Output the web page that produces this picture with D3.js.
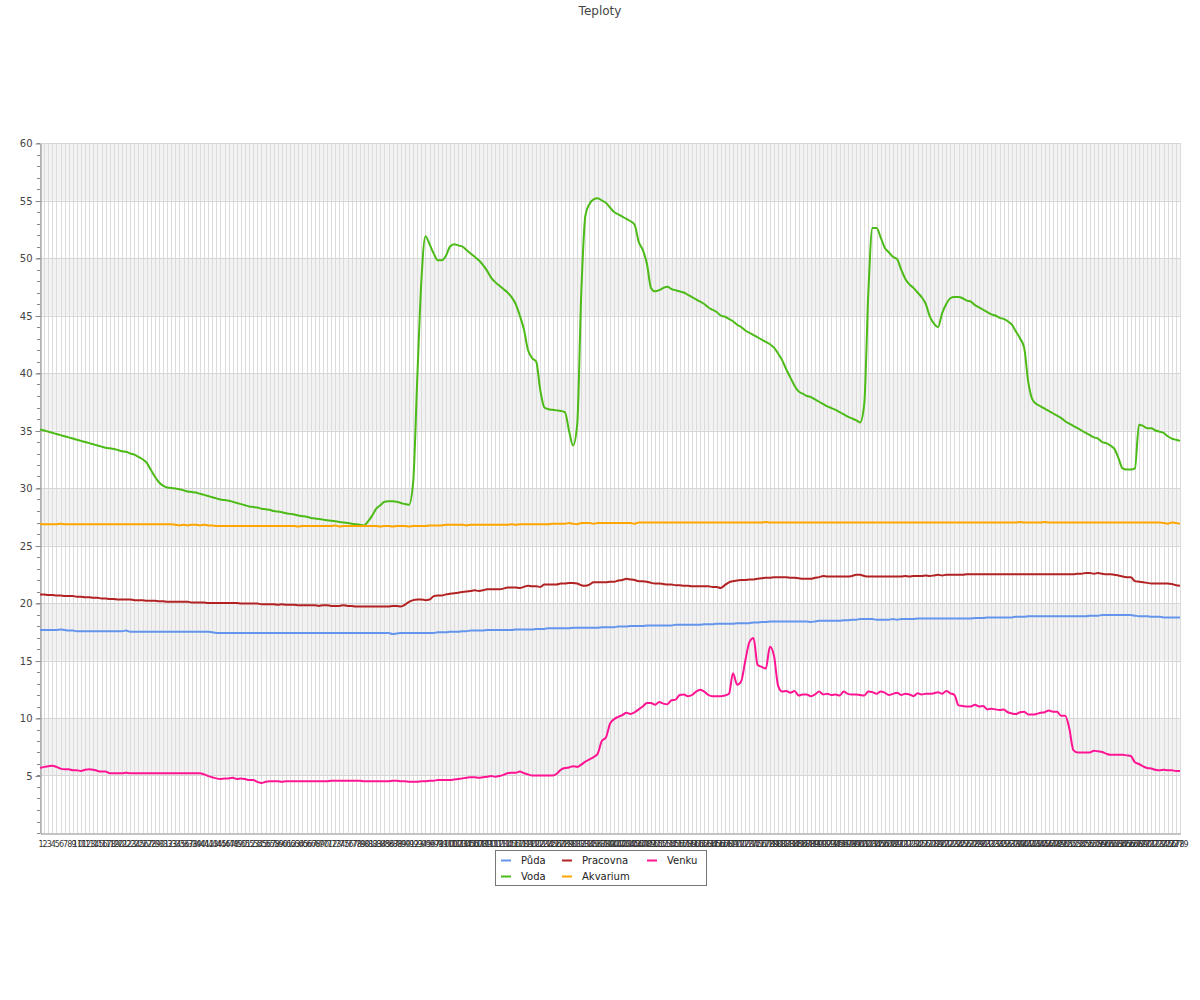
<!DOCTYPE html>
<html><head><meta charset="utf-8">
<script src="https://cdn.jsdelivr.net/npm/d3@7"></script>
<style>body{margin:0;background:#fff}svg{display:block}</style>
</head><body>
<svg id="chart" width="1200" height="1000"></svg>
<script>
const categories = [1,2,3,4,5,6,7,8,9,10,11,12,13,14,15,16,17,18,19,20,21,22,23,24,25,26,27,28,29,30,31,32,33,34,35,36,37,38,39,40,41,42,43,44,45,46,47,48,49,50,51,52,53,54,55,56,57,58,59,60,61,62,63,64,65,66,67,68,69,70,71,72,73,74,75,76,77,78,79,80,81,82,83,84,85,86,87,88,89,90,91,92,93,94,95,96,97,98,99,100,101,102,103,104,105,106,107,108,109,110,111,112,113,114,115,116,117,118,119,120,121,122,123,124,125,126,127,128,129,130,131,132,133,134,135,136,137,138,139,140,141,142,143,144,145,146,147,148,149,150,151,152,153,154,155,156,157,158,159,160,161,162,163,164,165,166,167,168,169,170,171,172,173,174,175,176,177,178,179,180,181,182,183,184,185,186,187,188,189,190,191,192,193,194,195,196,197,198,199,200,201,202,203,204,205,206,207,208,209,210,211,212,213,214,215,216,217,218,219,220,221,222,223,224,225,226,227,228,229,230,231,232,233,234,235,236,237,238,239,240,241,242,243,244,245,246,247,248,249,250,251,252,253,254,255,256,257,258,259,260,261,262,263,264,265,266,267,268,269,270,271,272,273,274,275,276,277,278,279];

const yTickLabels = [5,10,15,20,25,30,35,40,45,50,55,60];

const puda = [
17.65,17.65,17.65,17.65,17.65,17.7,17.65,17.6,17.6,17.55,
17.55,17.55,17.55,17.55,17.55,17.55,17.55,17.55,17.55,17.55,
17.55,17.6,17.5,17.5,17.5,17.5,17.5,17.5,17.5,17.5,
17.5,17.5,17.5,17.5,17.5,17.5,17.5,17.5,17.5,17.5,
17.5,17.5,17.45,17.4,17.4,17.4,17.4,17.4,17.4,17.4,
17.4,17.4,17.4,17.4,17.4,17.4,17.4,17.4,17.4,17.4,
17.4,17.4,17.4,17.4,17.4,17.4,17.4,17.4,17.4,17.4,
17.4,17.4,17.4,17.4,17.4,17.4,17.4,17.4,17.4,17.4,
17.4,17.4,17.4,17.4,17.4,17.4,17.3,17.35,17.4,17.4,
17.4,17.4,17.4,17.4,17.4,17.4,17.4,17.45,17.45,17.45,
17.5,17.5,17.5,17.55,17.55,17.6,17.6,17.6,17.6,17.65,
17.65,17.65,17.65,17.65,17.65,17.65,17.7,17.7,17.7,17.7,
17.7,17.75,17.75,17.75,17.8,17.8,17.8,17.8,17.8,17.8,
17.85,17.85,17.85,17.85,17.85,17.85,17.85,17.9,17.9,17.9,
17.9,17.95,17.95,17.95,18.0,18.0,18.0,18.0,18.05,18.05,
18.05,18.05,18.05,18.05,18.05,18.1,18.1,18.1,18.1,18.1,
18.1,18.1,18.15,18.15,18.15,18.2,18.2,18.2,18.2,18.2,
18.25,18.25,18.25,18.25,18.3,18.3,18.35,18.35,18.4,18.4,
18.4,18.4,18.4,18.4,18.4,18.4,18.4,18.4,18.35,18.4,
18.45,18.45,18.45,18.45,18.45,18.45,18.5,18.5,18.55,18.55,
18.6,18.6,18.6,18.6,18.55,18.55,18.55,18.55,18.6,18.55,
18.6,18.6,18.6,18.6,18.65,18.65,18.65,18.65,18.65,18.65,
18.65,18.65,18.65,18.65,18.65,18.65,18.65,18.65,18.7,18.7,
18.7,18.75,18.75,18.75,18.75,18.75,18.75,18.75,18.8,18.8,
18.8,18.85,18.85,18.85,18.85,18.85,18.85,18.85,18.85,18.85,
18.85,18.85,18.85,18.85,18.85,18.85,18.9,18.9,18.9,18.95,
18.95,18.95,18.95,18.95,18.95,18.95,18.95,18.9,18.85,18.85,
18.85,18.8,18.8,18.8,18.75,18.75,18.75,18.75,18.75];

const voda = [
35.1,35.0,34.9,34.8,34.7,34.6,34.5,34.4,34.3,34.2,
34.1,34.0,33.9,33.8,33.7,33.6,33.5,33.45,33.4,33.3,
33.2,33.15,33.0,32.9,32.7,32.5,32.2,31.6,31.0,30.5,
30.2,30.05,30.0,29.95,29.9,29.8,29.7,29.65,29.6,29.5,
29.4,29.3,29.2,29.1,29.0,28.95,28.9,28.8,28.7,28.6,
28.5,28.4,28.35,28.3,28.2,28.15,28.1,28.0,27.95,27.9,
27.8,27.75,27.7,27.6,27.55,27.5,27.4,27.35,27.3,27.25,
27.2,27.15,27.1,27.05,27.0,26.95,26.9,26.85,26.8,26.75,
27.1,27.6,28.2,28.5,28.8,28.85,28.85,28.8,28.7,28.6,
28.55,30.5,39.5,48.0,51.9,51.2,50.4,49.8,49.8,50.2,
51.0,51.2,51.1,51.0,50.7,50.4,50.1,49.8,49.4,48.9,
48.3,47.9,47.6,47.3,47.0,46.6,46.0,45.0,43.8,42.0,
41.3,41.0,38.5,37.0,36.85,36.8,36.75,36.7,36.6,35.0,
33.7,35.5,47.0,53.7,54.7,55.1,55.2,55.0,54.8,54.4,
54.0,53.8,53.6,53.4,53.2,52.9,51.4,50.7,49.5,47.4,
47.1,47.2,47.4,47.5,47.3,47.2,47.1,47.0,46.8,46.6,
46.4,46.2,46.0,45.7,45.5,45.3,45.0,44.9,44.7,44.5,
44.2,44.0,43.7,43.5,43.3,43.1,42.9,42.7,42.5,42.2,
41.7,41.1,40.3,39.6,38.9,38.4,38.2,38.0,37.9,37.7,
37.5,37.3,37.1,36.95,36.8,36.6,36.4,36.2,36.05,35.9,
35.7,37.3,47.0,52.6,52.6,51.8,50.9,50.5,50.1,49.9,
49.0,48.2,47.7,47.4,47.0,46.6,46.0,44.9,44.3,44.0,
45.2,46.0,46.5,46.6,46.6,46.5,46.3,46.2,45.9,45.7,
45.5,45.3,45.1,45.0,44.8,44.7,44.5,44.2,43.6,43.0,
42.2,39.2,37.7,37.3,37.1,36.9,36.7,36.5,36.3,36.1,
35.8,35.6,35.4,35.2,35.0,34.8,34.6,34.4,34.3,34.0,
33.9,33.7,33.4,32.6,31.7,31.6,31.6,31.7,35.5,35.4,
35.2,35.2,35.0,34.9,34.8,34.5,34.3,34.2,34.1];

const pracovna = [
20.75,20.75,20.7,20.7,20.65,20.65,20.6,20.6,20.6,20.55,
20.55,20.5,20.5,20.45,20.45,20.4,20.4,20.35,20.35,20.3,
20.3,20.3,20.3,20.25,20.25,20.25,20.2,20.2,20.2,20.15,
20.15,20.1,20.1,20.1,20.1,20.1,20.1,20.05,20.05,20.05,
20.05,20.0,20.0,20.0,20.0,20.0,20.0,20.0,20.0,19.95,
19.95,19.95,19.95,19.95,19.9,19.9,19.9,19.9,19.85,19.9,
19.85,19.85,19.85,19.8,19.8,19.8,19.8,19.8,19.75,19.8,
19.8,19.75,19.75,19.75,19.8,19.75,19.75,19.7,19.7,19.7,
19.7,19.7,19.7,19.7,19.7,19.7,19.75,19.75,19.7,19.85,
20.1,20.25,20.3,20.3,20.25,20.3,20.6,20.65,20.65,20.75,
20.8,20.85,20.9,20.95,21.0,21.05,21.1,21.05,21.1,21.2,
21.2,21.2,21.2,21.25,21.35,21.35,21.35,21.3,21.4,21.5,
21.45,21.45,21.4,21.6,21.6,21.6,21.6,21.7,21.7,21.75,
21.75,21.7,21.55,21.5,21.6,21.8,21.8,21.8,21.8,21.85,
21.85,21.95,22.0,22.1,22.05,22.0,21.9,21.9,21.85,21.75,
21.7,21.7,21.65,21.6,21.6,21.55,21.55,21.5,21.5,21.45,
21.45,21.45,21.45,21.45,21.4,21.4,21.3,21.55,21.8,21.9,
21.95,22.0,22.0,22.05,22.05,22.1,22.15,22.2,22.2,22.25,
22.25,22.25,22.25,22.2,22.2,22.15,22.1,22.1,22.1,22.2,
22.25,22.35,22.3,22.3,22.3,22.3,22.3,22.3,22.35,22.45,
22.45,22.35,22.3,22.3,22.3,22.3,22.3,22.3,22.3,22.3,
22.3,22.35,22.3,22.35,22.35,22.35,22.4,22.35,22.4,22.45,
22.4,22.45,22.45,22.45,22.45,22.45,22.5,22.5,22.5,22.5,
22.5,22.5,22.5,22.5,22.5,22.5,22.5,22.5,22.5,22.5,
22.5,22.5,22.5,22.5,22.5,22.5,22.5,22.5,22.5,22.5,
22.5,22.5,22.5,22.55,22.55,22.6,22.6,22.55,22.6,22.55,
22.5,22.5,22.45,22.4,22.3,22.25,22.25,21.9,21.85,21.8,
21.75,21.7,21.7,21.7,21.7,21.7,21.65,21.55,21.5];

const akvarium = [
26.9,26.85,26.85,26.85,26.85,26.9,26.85,26.85,26.85,26.85,
26.85,26.85,26.85,26.85,26.85,26.85,26.85,26.85,26.85,26.85,
26.85,26.85,26.85,26.85,26.85,26.85,26.85,26.85,26.85,26.85,
26.85,26.85,26.85,26.8,26.75,26.8,26.75,26.8,26.8,26.75,
26.8,26.75,26.75,26.7,26.7,26.7,26.7,26.7,26.7,26.7,
26.7,26.7,26.7,26.7,26.7,26.7,26.7,26.7,26.7,26.7,
26.7,26.7,26.7,26.65,26.7,26.7,26.7,26.7,26.7,26.7,
26.7,26.7,26.75,26.65,26.7,26.7,26.7,26.7,26.7,26.7,
26.7,26.7,26.7,26.65,26.7,26.7,26.65,26.7,26.7,26.7,
26.65,26.7,26.7,26.7,26.7,26.75,26.75,26.75,26.75,26.8,
26.8,26.8,26.8,26.8,26.75,26.8,26.8,26.8,26.8,26.8,
26.8,26.8,26.8,26.8,26.8,26.85,26.8,26.85,26.85,26.85,
26.85,26.85,26.85,26.85,26.85,26.9,26.9,26.9,26.9,26.95,
26.9,26.85,26.95,26.95,26.95,26.9,26.95,26.95,26.95,26.95,
26.95,26.95,26.95,26.95,26.95,26.9,27.0,27.0,27.0,27.0,
27.0,27.0,27.0,27.0,27.0,27.0,27.0,27.0,27.0,27.0,
27.0,27.0,27.0,27.0,27.0,27.0,27.0,27.0,27.0,27.0,
27.0,27.0,27.0,27.0,27.0,27.0,27.0,27.05,27.0,27.0,
27.0,27.0,27.0,27.0,27.0,27.0,27.0,27.0,27.0,27.0,
27.0,27.0,27.0,27.0,27.0,27.0,27.0,27.0,27.0,27.0,
27.0,27.0,27.0,27.0,27.0,27.0,27.0,27.0,27.0,27.0,
27.0,27.0,27.0,27.0,27.0,27.0,27.0,27.0,27.0,27.0,
27.0,27.0,27.0,27.0,27.0,27.0,27.0,27.0,27.0,27.0,
27.0,27.0,27.0,27.0,27.0,27.0,27.0,27.0,27.0,27.05,
27.0,27.0,27.0,27.0,27.0,27.05,27.0,27.0,27.0,27.0,
27.0,27.0,27.0,27.0,27.0,27.0,27.0,27.0,27.0,27.0,
27.0,27.0,27.0,27.0,27.0,27.0,27.0,27.0,27.0,27.0,
27.0,27.0,27.0,27.0,26.95,26.9,27.0,26.95,26.9];

const venku = [
5.65,5.75,5.8,5.85,5.75,5.6,5.55,5.55,5.45,5.45,
5.4,5.5,5.55,5.5,5.4,5.35,5.35,5.2,5.2,5.2,
5.2,5.25,5.2,5.2,5.2,5.2,5.2,5.2,5.2,5.2,
5.2,5.2,5.2,5.2,5.2,5.2,5.2,5.2,5.2,5.2,
5.1,4.95,4.85,4.75,4.7,4.75,4.75,4.8,4.7,4.75,
4.7,4.6,4.6,4.45,4.35,4.45,4.5,4.5,4.5,4.45,
4.5,4.5,4.5,4.5,4.5,4.5,4.5,4.5,4.5,4.5,
4.5,4.55,4.55,4.55,4.55,4.55,4.55,4.55,4.55,4.5,
4.5,4.5,4.5,4.5,4.5,4.5,4.55,4.55,4.5,4.5,
4.45,4.45,4.45,4.5,4.5,4.55,4.55,4.6,4.6,4.6,
4.6,4.65,4.7,4.75,4.8,4.85,4.85,4.8,4.85,4.9,
4.95,4.9,4.95,5.05,5.2,5.25,5.25,5.35,5.2,5.1,
5.0,5.0,5.0,5.0,5.0,5.0,5.15,5.5,5.65,5.7,
5.8,5.75,5.95,6.2,6.4,6.6,6.9,8.0,8.3,9.5,
9.9,10.1,10.25,10.45,10.35,10.5,10.75,11.0,11.3,11.3,
11.15,11.4,11.25,11.2,11.55,11.6,12.0,12.05,11.9,12.0,
12.3,12.45,12.3,12.0,11.9,11.9,11.9,11.95,12.1,13.9,
12.9,13.2,15.0,16.6,16.95,14.6,14.45,14.3,16.2,15.4,
12.8,12.3,12.35,12.2,12.35,11.95,12.05,12.05,11.9,12.05,
12.3,12.05,12.1,12.0,12.05,11.95,12.3,12.1,12.05,12.05,
12.0,11.95,12.3,12.25,12.1,12.3,12.2,12.0,12.1,12.2,
12.0,12.1,12.05,11.9,12.15,12.05,12.1,12.1,12.15,12.25,
12.1,12.35,12.15,12.0,11.1,11.05,11.0,11.0,11.15,11.0,
11.05,10.75,10.8,10.75,10.7,10.75,10.5,10.4,10.35,10.5,
10.55,10.3,10.3,10.35,10.45,10.5,10.65,10.55,10.55,10.2,
10.2,9.1,7.2,7.0,7.0,7.0,7.0,7.15,7.1,7.05,
6.9,6.8,6.8,6.8,6.8,6.75,6.7,6.15,6.0,5.8,
5.65,5.6,5.5,5.45,5.5,5.45,5.45,5.4,5.4];

const seriesNames = ["Půda", "Voda", "Pracovna", "Akvarium", "Venku"];
const seriesColors = ["#6495ED", "#4CBB17", "#B22222", "#FFA500", "#FF1493"];
const seriesValues = [puda, voda, pracovna, akvarium, venku];

const svg = d3.select("#chart");
const FONT = "DejaVu Sans, sans-serif";
const plot = {left: 40, right: 1180, top: 143, bottom: 833};

const x = d3.scalePoint().domain(categories).range([plot.left, plot.right]);
const y = d3.scaleLinear().domain([0, 60]).range([plot.bottom, plot.top]);

// title
svg.append("text").attr("x", 600).attr("y", 15).attr("text-anchor", "middle")
  .attr("font-family", FONT).attr("font-size", 12).attr("fill", "#444").text("Teploty");

// alternating bands
const bandStarts = [0,5,10,15,20,25,30,35,40,45,50,55];
svg.append("g").selectAll("rect").data(bandStarts.filter((d, i) => i % 2 === 1)).join("rect")
  .attr("x", plot.left).attr("width", plot.right - plot.left)
  .attr("y", d => y(d + 5)).attr("height", d => y(d) - y(d + 5))
  .attr("fill", "#f2f2f2");

// vertical grid
svg.append("g").selectAll("line").data(categories).join("line")
  .attr("x1", d => Math.round(x(d)) + 0.5).attr("x2", d => Math.round(x(d)) + 0.5)
  .attr("y1", plot.top).attr("y2", plot.bottom)
  .attr("stroke", "#dcdcdc").attr("stroke-width", 1);

// horizontal grid
svg.append("g").selectAll("line").data(yTickLabels).join("line")
  .attr("x1", plot.left).attr("x2", plot.right)
  .attr("y1", d => Math.round(y(d)) + 0.5).attr("y2", d => Math.round(y(d)) + 0.5)
  .attr("stroke", "#d6d6d6").attr("stroke-width", 1);

// minor ticks
const minorTicks = y.ticks(60);
svg.append("g").selectAll("line").data(minorTicks).join("line")
  .attr("x1", plot.left - 3).attr("x2", plot.left)
  .attr("y1", d => Math.round(y(d)) + 0.5).attr("y2", d => Math.round(y(d)) + 0.5)
  .attr("stroke", "#888");

// y axis
const yAxis = svg.append("g").attr("transform", `translate(${plot.left + 0.5},0.5)`)
  .call(d3.axisLeft(y).tickValues(yTickLabels).tickSize(5).tickPadding(3).tickSizeOuter(0));
yAxis.select(".domain").attr("stroke", "#888");
yAxis.selectAll(".tick line").attr("stroke", "#888");
yAxis.selectAll("text").attr("font-family", FONT).attr("font-size", 10).attr("fill", "#444");

// x axis
const xAxis = svg.append("g").attr("transform", `translate(0.5,${plot.bottom + 0.5})`)
  .call(d3.axisBottom(x).tickSize(0).tickPadding(8).tickSizeOuter(0));
xAxis.select(".domain").attr("stroke", "#888");
xAxis.selectAll("text").attr("font-family", FONT).attr("font-size", 8).attr("fill", "#333");

// lines
const line = d3.line().curve(d3.curveMonotoneX);
seriesValues.forEach((vals, si) => {
  svg.append("path")
    .attr("d", line(vals.map((v, i) => [x(categories[i]), y(v)])))
    .attr("fill", "none").attr("stroke", seriesColors[si]).attr("stroke-width", 2)
    .attr("stroke-linejoin", "round");
});

// legend
const lg = svg.append("g");
lg.append("rect").attr("x", 495.5).attr("y", 850.5).attr("width", 211).attr("height", 35)
  .attr("fill", "#fff").attr("stroke", "#777");
const colX = [501, 562, 647];
const rowY = [860.5, 876.5];
seriesNames.forEach((name, i) => {
  const c = Math.floor(i / 2), r = i % 2;
  lg.append("line").attr("x1", colX[c]).attr("x2", colX[c] + 10)
    .attr("y1", rowY[r]).attr("y2", rowY[r])
    .attr("stroke", seriesColors[i]).attr("stroke-width", 2);
  lg.append("text").attr("x", colX[c] + 20).attr("y", rowY[r]).attr("dy", "0.35em")
    .attr("font-family", FONT).attr("font-size", 10).attr("fill", "#222").text(name);
});
</script>
</body></html>
